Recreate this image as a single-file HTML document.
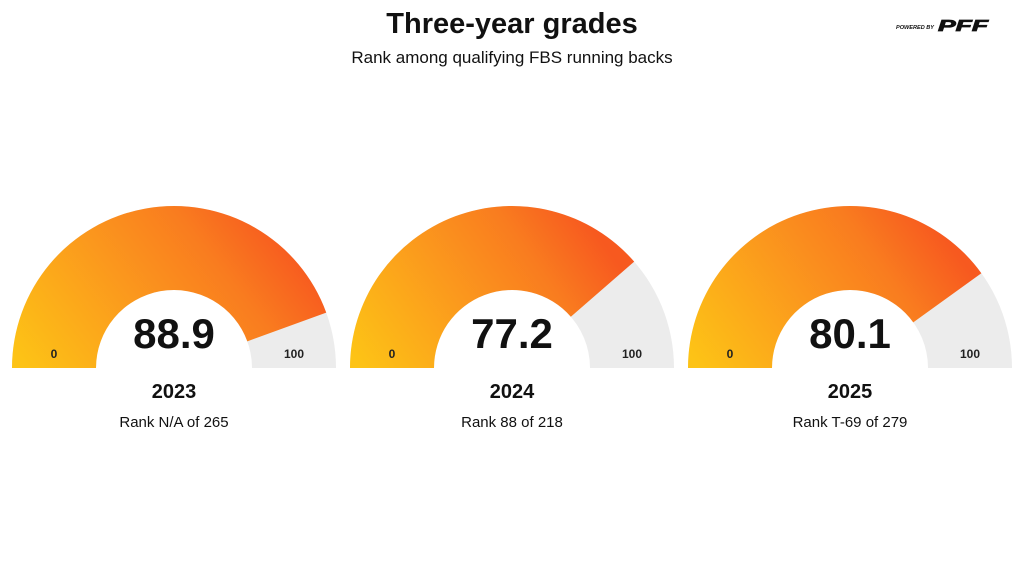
<!DOCTYPE html>
<html><head><meta charset="utf-8"><style>
body{margin:0;background:#fff;width:1024px;height:580px;overflow:hidden;font-family:"Liberation Sans",sans-serif}
</style></head><body>
<svg width="1024" height="580">
<defs><linearGradient id="g" x1="0" y1="0.9" x2="1" y2="0.5"><stop offset="0" stop-color="#fdc316"/><stop offset="0.45" stop-color="#fb981d"/><stop offset="0.75" stop-color="#f97c1f"/><stop offset="1" stop-color="#f7591f"/></linearGradient></defs>
<text x="512" y="33" text-anchor="middle" font-size="29" font-weight="bold" fill="#111">Three-year grades</text>
<text x="512" y="63" text-anchor="middle" font-size="17" fill="#111">Rank among qualifying FBS running backs</text>
<g><text x="896" y="29" font-size="5.5" font-weight="bold" font-style="italic" fill="#111" textLength="38" lengthAdjust="spacingAndGlyphs">POWERED BY</text>
<text x="938" y="31" font-size="16" font-weight="900" font-style="italic" fill="#111" stroke="#111" stroke-width="0.8" textLength="50" lengthAdjust="spacingAndGlyphs">PFF</text></g>
<g id="gauges"></g>
</svg>
<script>
const years=['2023','2024','2025'];
const grades=[88.9,77.2,80.1];
const ranks=['Rank N/A of 265','Rank 88 of 218','Rank T-69 of 279'];
const ns='http://www.w3.org/2000/svg';
const G=document.getElementById('gauges');
const R=162,r=78,cy=368;
function pt(cx,rad,a){return [cx-rad*Math.cos(a),cy-rad*Math.sin(a)];}
function arc(cx,a0,a1){const p1=pt(cx,R,a0),p2=pt(cx,R,a1),p3=pt(cx,r,a1),p4=pt(cx,r,a0);
return `M${p1} A${R},${R} 0 0 1 ${p2} L${p3} A${r},${r} 0 0 0 ${p4}Z`;}
function mk(t,at,txt){const e=document.createElementNS(ns,t);for(const k in at)e.setAttribute(k,at[k]);if(txt!=null)e.textContent=txt;return e;}
years.forEach((y,i)=>{
const cx=174+338*i;const a=grades[i]/100*Math.PI;
const g=mk('g',{});


const bg=mk('path',{d:arc(cx,0,Math.PI),fill:'#ececec'});


g.appendChild(bg);
const f=mk('path',{d:arc(cx,0,a),fill:'url(#g)'});


g.appendChild(f);
const v=mk('text',{x:cx,y:348,'text-anchor':'middle','font-size':42,'font-weight':'bold',fill:'#111'},grades[i].toFixed(1));


g.appendChild(v);
const l0=mk('text',{x:cx-120,y:358,'text-anchor':'middle','font-size':12,'font-weight':'bold',fill:'#222'},'0');


g.appendChild(l0);
const l1=mk('text',{x:cx+120,y:358,'text-anchor':'middle','font-size':12,'font-weight':'bold',fill:'#222'},'100');


g.appendChild(l1);
const yt=mk('text',{x:cx,y:398,'text-anchor':'middle','font-size':20,'font-weight':'bold',fill:'#111'},y);


g.appendChild(yt);
const rk=mk('text',{x:cx,y:427,'text-anchor':'middle','font-size':15,fill:'#111'},ranks[i]);


g.appendChild(rk);
G.appendChild(g);
});
</script>
</body></html>
